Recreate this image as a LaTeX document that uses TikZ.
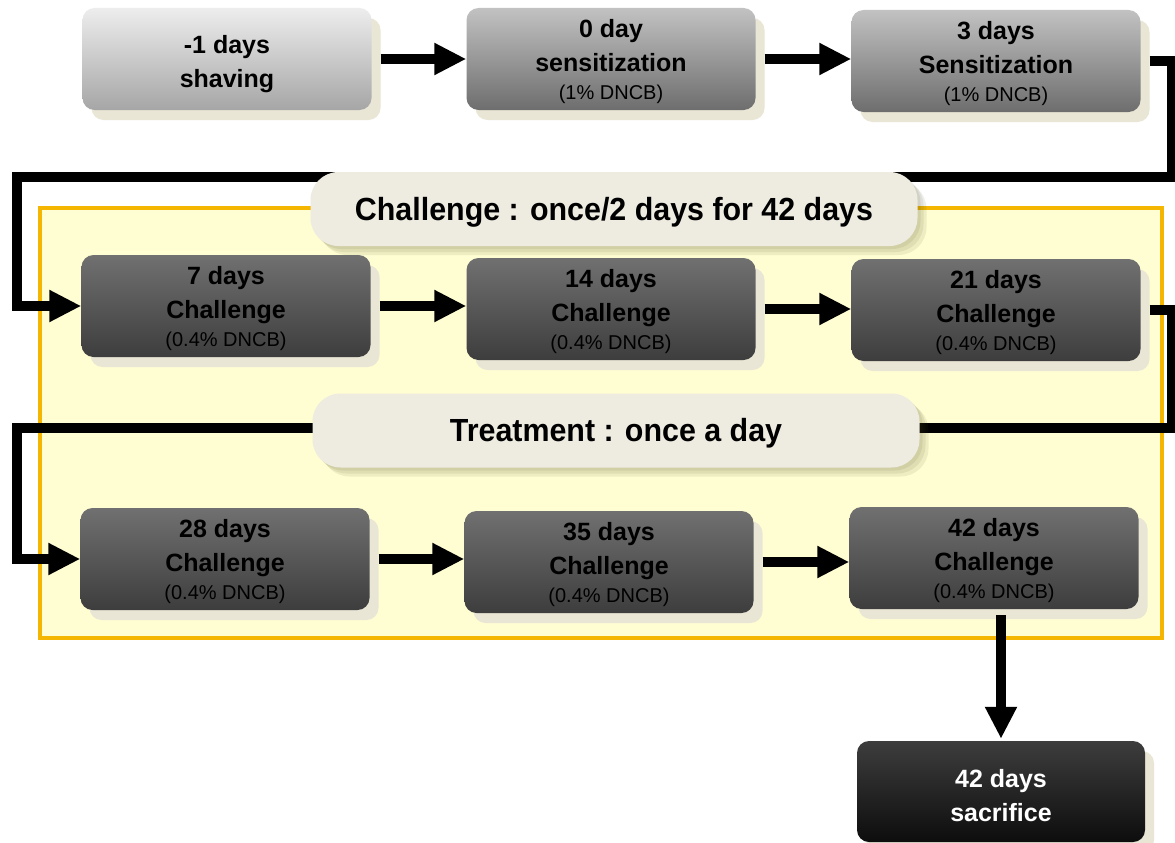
\documentclass[tikz,border=0pt]{standalone}
\usepackage{fontspec}
\setmainfont{Liberation Sans}
\newfontfamily\pillfont[FakeStretch=0.95]{Liberation Sans}
\usetikzlibrary{arrows.meta,shadows}
\definecolor{panelfill}{HTML}{FFFDD2}
\definecolor{panelline}{HTML}{F4B600}
\definecolor{pillfill}{HTML}{EEEBE0}
\definecolor{shadowc}{HTML}{E9E6D5}
\definecolor{pshadow}{HTML}{4A4A20}
\tikzset{
  box/.style={rounded corners=12pt, minimum width=289pt, minimum height=102pt,
    inner sep=0pt, align=center, font=\fontsize{25}{34}\selectfont\bfseries,
    text=black,
    general shadow={shadow xshift=9pt, shadow yshift=-10pt, fill=shadowc}},
  lightbox/.style={box, top color=black!7, bottom color=black!35},
  midbox/.style={box, top color=black!24, bottom color=black!57},
  darkbox/.style={box, top color=black!56, bottom color=black!76},
  endbox/.style={box, top color=black!76, bottom color=black!95, text=white},
  pshad/.style={general shadow={shadow xshift=#1pt, shadow yshift=-#1pt,
    fill=pshadow, opacity=0.09}},
  pill/.style={rounded corners=28pt, fill=pillfill, inner sep=0pt,
    minimum width=607pt, minimum height=74pt, text depth=1pt,
    font=\pillfont\fontsize{32}{36}\selectfont\bfseries,
    pshad=3, pshad=6, pshad=9},
  arr/.style={line width=10pt, -{Triangle[length=32pt,width=30pt]}}
}
\newcommand{\smalltxt}[1]{\fontsize{20}{24}\selectfont\mdseries #1}
\begin{document}
\begin{tikzpicture}[x=1pt,y=-1pt]
\useasboundingbox[fill=white] (0,0) rectangle (1175,843);
% yellow panel
\node[draw=panelline, line width=3.5pt, fill=panelfill, inner sep=0pt,
  minimum width=1122pt, minimum height=430pt] (panel) at (601,423) {};
% boxes
\node[lightbox] (shv) at (227,59) {\rule{0pt}{28pt}-1 days\\shaving};
\node[midbox] (d0) at (611,59) {\rule{0pt}{24pt}0 day\\sensitization\\[-6pt]\smalltxt{(1\% DNCB)}};
\node[midbox] (d3) at (996,61) {\rule{0pt}{24pt}3 days\\Sensitization\\[-6pt]\smalltxt{(1\% DNCB)}};
% connector coordinates
\coordinate (r1) at (1172,177);
\coordinate (l1) at (17,177);
\coordinate (r2) at (1172,428);
\coordinate (l2) at (17,428);
\node[darkbox] (c7) at (226,306) {\rule{0pt}{24pt}7 days\\Challenge\\[-6pt]\smalltxt{(0.4\% DNCB)}};
\node[darkbox] (c14) at (611,309) {\rule{0pt}{24pt}14 days\\Challenge\\[-6pt]\smalltxt{(0.4\% DNCB)}};
\node[darkbox] (c21) at (996,310) {\rule{0pt}{24pt}21 days\\Challenge\\[-6pt]\smalltxt{(0.4\% DNCB)}};
\node[darkbox] (c28) at (225,559) {\rule{0pt}{24pt}28 days\\Challenge\\[-6pt]\smalltxt{(0.4\% DNCB)}};
\node[darkbox] (c35) at (609,562) {\rule{0pt}{24pt}35 days\\Challenge\\[-6pt]\smalltxt{(0.4\% DNCB)}};
\node[darkbox] (c42) at (994,558) {\rule{0pt}{24pt}42 days\\Challenge\\[-6pt]\smalltxt{(0.4\% DNCB)}};
\node[endbox, minimum width=288pt, minimum height=101pt] (sac) at (1001,791.5) {\rule{0pt}{26pt}42 days\\sacrifice};
% long connectors
\draw[arr, shorten <=9pt] (d3.east) -| (r1) -- (l1) |- (c7.west);
\draw[arr, shorten <=9pt] (c21.east) -| (r2) -- (l2) |- (c28.west);
% pills
\node[pill] (pc) at (614,209) {Challenge : once/2 days for 42 days};
\node[pill] (pt) at (616,430.5) {Treatment : once a day};
% row arrows
\draw[arr, shorten <=9pt] (shv.east) -- (d0.west |- shv.east);
\draw[arr, shorten <=9pt] (d0.east) -- (d3.west |- d0.east);
\draw[arr, shorten <=9pt] (c7.east) -- (c14.west |- c7.east);
\draw[arr, shorten <=9pt] (c14.east) -- (c21.west |- c14.east);
\draw[arr, shorten <=9pt] (c28.east) -- (c35.west |- c28.east);
\draw[arr, shorten <=9pt] (c35.east) -- (c42.west |- c35.east);
\draw[arr, shorten <=6pt, shorten >=2pt] (c42.south -| sac.north) -- (sac.north);
\end{tikzpicture}
\end{document}
